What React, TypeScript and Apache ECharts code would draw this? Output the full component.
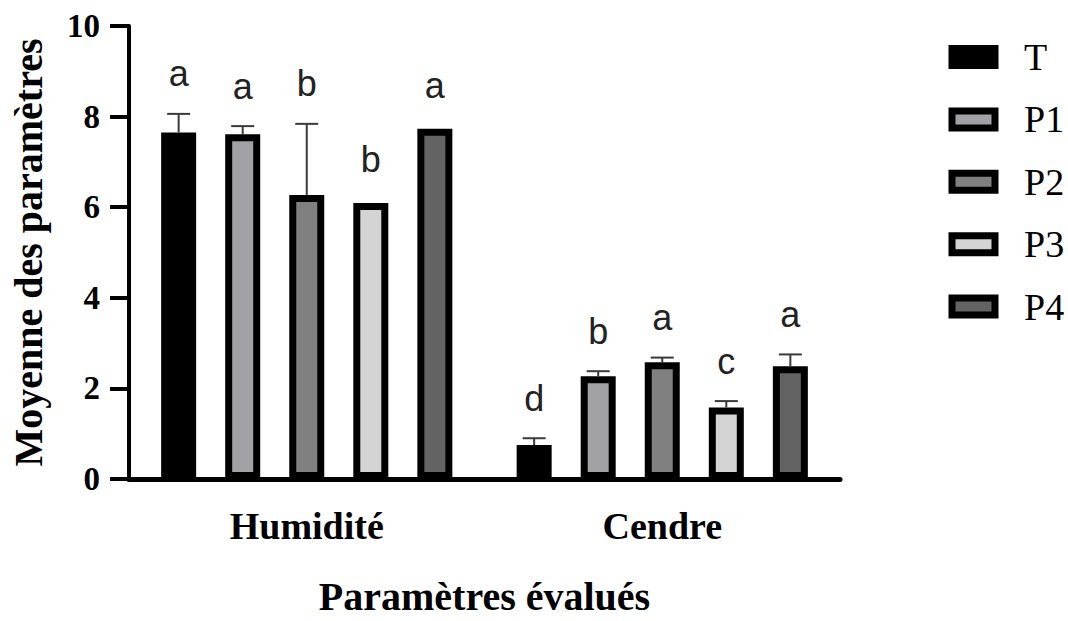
import React, { useEffect, useRef } from 'react';
import * as echarts from 'echarts';

// ---- data ----
const categories = ['Humidité', 'Cendre'];
const seriesNames = ['T', 'P1', 'P2', 'P3', 'P4'];
const seriesColors = ['#000000', '#a2a1a6', '#808080', '#d4d4d4', '#636363'];

const meanT = [7.65, 0.75];
const meanP1 = [7.61, 2.27];
const meanP2 = [6.27, 2.58];
const meanP3 = [6.09, 1.58];
const meanP4 = [7.73, 2.49];

const errT = [0.41, 0.15];
const errP1 = [0.18, 0.11];
const errP2 = [1.57, 0.1];
const errP3 = [0.0, 0.14];
const errP4 = [0.0, 0.26];

const lettersT = ['a', 'd'];
const lettersP1 = ['a', 'b'];
const lettersP2 = ['b', 'a'];
const lettersP3 = ['b', 'c'];
const lettersP4 = ['a', 'a'];

const yMin = 0;
const yMax = 10;
const yInterval = 2;

const means = [meanT, meanP1, meanP2, meanP3, meanP4];
const errs = [errT, errP1, errP2, errP3, errP4];
const letters = [lettersT, lettersP1, lettersP2, lettersP3, lettersP4];

// ---- style constants ----
const BAR_W = 35;
const BAR_GAP = 0.83;
const BORDER = 7;
const SERIF = '"Liberation Serif", "Times New Roman", serif';
const SANS = '"Liberation Sans", Arial, sans-serif';

export default function App() {
  const ref = useRef<HTMLDivElement>(null);

  useEffect(() => {
    document.body.style.margin = '0';
    const chart = echarts.init(ref.current!, null, { renderer: 'svg', width: 1068, height: 621 });

    const barSeries = seriesNames.map((name, i) => ({
      type: 'bar',
      name,
      data: means[i],
      barWidth: BAR_W,
      barGap: `${Math.round(BAR_GAP * 100)}%`,
      itemStyle: { color: seriesColors[i], borderColor: '#000', borderWidth: BORDER },
      z: 2,
    }));

    const errData: number[][] = [];
    const errLetters: string[] = [];
    for (let i = 0; i < seriesNames.length; i++) {
      for (let c = 0; c < categories.length; c++) {
        errData.push([c, i, means[i][c], errs[i][c]]);
        errLetters.push(letters[i][c]);
      }
    }

    const errSeries = {
      type: 'custom',
      name: 'err',
      data: errData,
      encode: { x: 0, y: 2 },
      clip: false,
      z: 5,
      renderItem: (params: any, api: any) => {
        const c = api.value(0);
        const i = api.value(1);
        const m = api.value(2);
        const e = api.value(3);
        const base = api.coord([c, m]);
        const x = base[0] + (i - (seriesNames.length - 1) / 2) * BAR_W * (1 + BAR_GAP);
        const top = api.coord([c, m + e])[1];
        const refTop = e > 0 ? top : base[1] - BORDER / 2;
        const children: any[] = [];
        if (e > 0) {
          children.push({
            type: 'line',
            shape: { x1: x, y1: base[1], x2: x, y2: top },
            style: { stroke: '#3a3a3a', lineWidth: 2 },
          });
          children.push({
            type: 'line',
            shape: { x1: x - 11.5, y1: top, x2: x + 11.5, y2: top },
            style: { stroke: '#3a3a3a', lineWidth: 2 },
          });
        }
        children.push({
          type: 'text',
          x,
          y: refTop - 40,
          style: {
            text: errLetters[params.dataIndex],
            align: 'center',
            verticalAlign: 'middle',
            fontSize: 36,
            fontFamily: SANS,
            fill: '#222',
          },
        });
        return { type: 'group', children };
      },
    };

    chart.setOption({
      animation: false,
      backgroundColor: '#fff',
      grid: { left: 129, right: 228, top: 26, bottom: 133, containLabel: false },
      legend: {
        data: seriesNames,
        orient: 'vertical',
        left: 943.5,
        top: 32,
        icon: 'rect',
        itemWidth: 43,
        itemHeight: 17,
        itemGap: 22.4,
        selectedMode: false,
        itemStyle: { borderColor: '#000', borderWidth: BORDER },
        textStyle: {
          fontFamily: SERIF,
          fontSize: 38,
          color: '#000',
          lineHeight: 40,
          padding: [0, 0, 0, 24],
        },
      },
      xAxis: {
        type: 'category',
        data: categories,
        axisLine: { lineStyle: { color: '#000', width: 5 } },
        axisTick: { alignWithLabel: true, length: 18, lineStyle: { color: '#000', width: 3 } },
        axisLabel: {
          fontFamily: SERIF,
          fontWeight: 'bold',
          fontSize: 38,
          color: '#000',
          margin: 28,
        },
        name: 'Paramètres évalués',
        nameLocation: 'middle',
        nameGap: 97,
        nameTextStyle: { fontFamily: SERIF, fontWeight: 'bold', fontSize: 40, color: '#000' },
      },
      yAxis: {
        type: 'value',
        min: yMin,
        max: yMax,
        interval: yInterval,
        splitLine: { show: false },
        axisLine: { show: true, lineStyle: { color: '#000', width: 4 } },
        axisTick: { show: true, length: 19, lineStyle: { color: '#000', width: 4 } },
        axisLabel: {
          fontFamily: SERIF,
          fontWeight: 'bold',
          fontSize: 33,
          color: '#000',
          margin: 29,
        },
        name: 'Moyenne des paramètres',
        nameLocation: 'middle',
        nameRotate: 90,
        nameGap: 81,
        nameTextStyle: { fontFamily: SERIF, fontWeight: 'bold', fontSize: 40, color: '#000' },
      },
      series: [...barSeries, errSeries],
    });

    return () => chart.dispose();
  }, []);

  return (
    <div
      ref={ref}
      style={{ position: 'fixed', left: 0, top: 0, width: 1068, height: 621, background: '#fff' }}
    />
  );
}
